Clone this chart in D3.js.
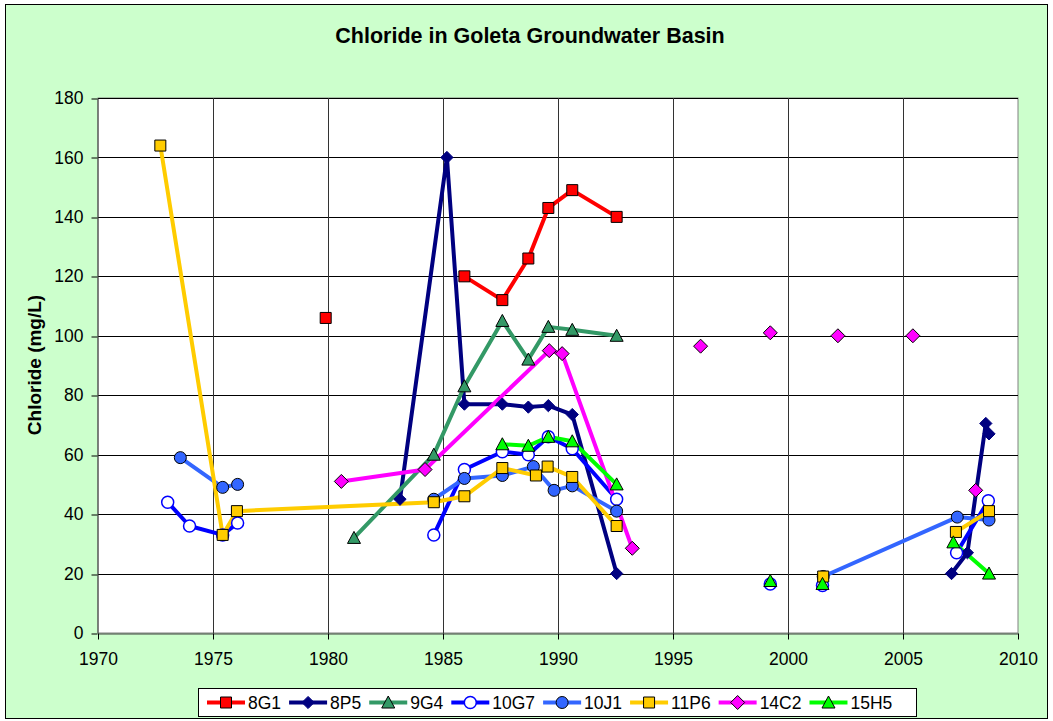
<!DOCTYPE html>
<html>
<head>
<meta charset="utf-8">
<script src="https://cdn.jsdelivr.net/npm/d3@7"></script>
<style>
  body { margin: 0; background: #fff; }
  svg text { font-family: Arial, "Liberation Sans", sans-serif; }
</style>
</head>
<body>
<svg id="vis" width="1053" height="721"></svg>
<script>
const width = 1053;
const height = 721;

// sample dates (decimal years) and chloride (mg/L); null = break in the line
const yr8G1 = [1979.9, null, 1985.93, 1987.58, 1988.71, 1989.58, 1990.62, 1992.55];
const cl8G1 = [106, null, 120, 112, 126, 143, 149, 140];

const yr8P5 = [1983.13, 1985.17, 1985.93, 1987.58, 1988.71, 1989.58, 1990.62, 1992.55, null, 2007.11, 2007.8, 2008.6, 2008.74];
const cl8P5 = [45, 160, 77, 77, 76, 76.5, 73.5, 20, null, 20, 27, 70.5, 67];

const yr9G4 = [1981.13, 1984.6, 1985.93, 1987.58, 1988.71, 1989.58, 1990.62, 1992.55];
const cl9G4 = [32, 60, 83, 105, 92, 103, 102, 100];

const yr10G7 = [1973.03, 1973.98, 1975.42, 1976.07, null, 1984.6, 1985.93, 1987.58, 1988.71, 1989.58, 1990.62, 1992.55, null, 1999.23, null, 2001.5, null, 2007.33, 2008.71];
const cl10G7 = [44, 36, 33, 37, null, 33, 55, 61, 60, 66, 62, 45, null, 16.5, null, 16, null, 27, 44.5];

const yr10J1 = [1973.58, 1975.42, 1976.07, null, 1984.6, 1985.93, 1987.58, 1988.93, 1989.83, 1990.62, 1992.55, null, 2001.53, 2007.36, 2008.74];
const cl10J1 = [59, 49, 50, null, 45, 52, 53, 56, 48, 49.5, 41, null, 19, 39, 38];

const yr11P6 = [1972.71, 1975.42, 1976.04, 1984.6, 1985.93, 1987.58, 1989.04, 1989.55, 1990.62, 1992.55, null, 2001.53, null, 2007.3, 2008.74];
const cl11P6 = [164, 33, 41, 44, 46, 55.5, 53, 56, 52.5, 36, null, 19, null, 34, 41];

const yr14C2 = [1980.58, 1984.22, 1989.62, 1990.18, 1993.23, null, 1996.2, null, 1999.23, null, 2002.17, null, 2005.43, null, 2008.16];
const cl14C2 = [51, 55, 95, 94, 28.5, null, 96.5, null, 101, null, 100, null, 100, null, 48];

const yr15H5 = [1987.58, 1988.71, 1989.58, 1990.62, 1992.55, null, 1999.23, null, 2001.5, null, 2007.19, 2008.74];
const cl15H5 = [63.5, 63, 66, 64.5, 50, null, 17.5, null, 16.5, null, 30.5, 20];

const xTicks = [1970, 1975, 1980, 1985, 1990, 1995, 2000, 2005, 2010];
const yTicks = [0, 20, 40, 60, 80, 100, 120, 140, 160, 180];

// custom marker shapes (Excel style, centred on the point)
const diamond = {
  draw(c, s) {
    const r = Math.sqrt(s) / 2;
    c.moveTo(0, -r); c.lineTo(r, 0); c.lineTo(0, r); c.lineTo(-r, 0); c.closePath();
  }
};
const triangle = {
  draw(c, s) {
    const r = Math.sqrt(s) / 2;
    c.moveTo(0, -r); c.lineTo(r, r * 0.85); c.lineTo(-r, r * 0.85); c.closePath();
  }
};

function zip(xs, ys) {
  return xs.map((x, i) => (x == null ? null : { x: x, y: ys[i] }));
}

const series = [
  { name: "8G1", data: zip(yr8G1, cl8G1), color: "#FF0000", shape: d3.symbolSquare, size: 121, fill: "#FF0000", stroke: "#000" },
  { name: "8P5", data: zip(yr8P5, cl8P5), color: "#000080", shape: diamond, size: 150, fill: "#000080", stroke: "#000080" },
  { name: "9G4", data: zip(yr9G4, cl9G4), color: "#339966", shape: triangle, size: 169, fill: "#339966", stroke: "#000" },
  { name: "10G7", data: zip(yr10G7, cl10G7), color: "#0000FF", shape: d3.symbolCircle, size: 113, fill: "#FFFFFF", stroke: "#0000FF" },
  { name: "10J1", data: zip(yr10J1, cl10J1), color: "#3366FF", shape: d3.symbolCircle, size: 113, fill: "#3366FF", stroke: "#000" },
  { name: "11P6", data: zip(yr11P6, cl11P6), color: "#FFCC00", shape: d3.symbolSquare, size: 121, fill: "#FFCC00", stroke: "#000" },
  { name: "14C2", data: zip(yr14C2, cl14C2), color: "#FF00FF", shape: diamond, size: 196, fill: "#FF00FF", stroke: "#000" },
  { name: "15H5", data: zip(yr15H5, cl15H5), color: "#00FF00", shape: triangle, size: 169, fill: "#00FF00", stroke: "#000" }
];

const plot = { left: 98, top: 98, right: 1018, bottom: 633 };

const x = d3.scaleLinear().domain([1970, 2010]).range([plot.left, plot.right]);
const y = d3.scaleLinear().domain([0, 180]).range([plot.bottom, plot.top]);

const svg = d3.select("svg#vis");

// chart background and border
svg.append("rect")
  .attr("x", 5.5).attr("y", 4.5)
  .attr("width", 1042).attr("height", 714)
  .attr("fill", "#CCFFCC")
  .attr("stroke", "#000")
  .attr("stroke-width", 1);

// plot area
svg.append("rect")
  .attr("x", plot.left).attr("y", plot.top)
  .attr("width", plot.right - plot.left).attr("height", plot.bottom - plot.top)
  .attr("fill", "#fff")
  .attr("stroke", "#808080");

// gridlines
const grid = svg.append("g").attr("class", "grid");
grid.selectAll("line.h")
  .data(yTicks.filter(d => d > 0))
  .enter().append("line")
  .attr("x1", plot.left).attr("x2", plot.right)
  .attr("y1", d => Math.round(y(d)) + 0.5).attr("y2", d => Math.round(y(d)) + 0.5)
  .attr("stroke", "#000");
grid.selectAll("line.v")
  .data(xTicks.filter(d => d > 1970 && d < 2010))
  .enter().append("line")
  .attr("y1", plot.top).attr("y2", plot.bottom)
  .attr("x1", d => Math.round(x(d)) + 0.5).attr("x2", d => Math.round(x(d)) + 0.5)
  .attr("stroke", "#333");

// axes
const yAxis = svg.append("g")
  .attr("transform", "translate(" + (plot.left - 0.5) + ",0)")
  .call(d3.axisLeft(y).tickValues(yTicks).tickSize(6).tickSizeOuter(0).tickPadding(8));
const xAxis = svg.append("g")
  .attr("transform", "translate(0," + (plot.bottom + 0.5) + ")")
  .call(d3.axisBottom(x).tickValues(xTicks).tickFormat(d3.format("d")).tickSize(6).tickSizeOuter(0).tickPadding(13));

[yAxis, xAxis].forEach(function(a) {
  a.selectAll("path.domain").attr("stroke", "#404040");
  a.selectAll(".tick line").attr("stroke", "#000");
  a.selectAll("text").style("font-size", "17.5px").attr("fill", "#000");
});
yAxis.selectAll(".tick line").attr("transform", d => "translate(0," + (Math.round(y(d)) + 0.5 - y(d)) + ")");

// title and axis label
svg.append("text")
  .attr("x", 530).attr("y", 43)
  .attr("text-anchor", "middle")
  .style("font-size", "21.5px")
  .style("font-weight", "bold")
  .text("Chloride in Goleta Groundwater Basin");

svg.append("text")
  .attr("transform", "translate(41,365) rotate(-90)")
  .attr("text-anchor", "middle")
  .style("font-size", "19px")
  .style("font-weight", "bold")
  .text("Chloride (mg/L)");

// lines
const line = d3.line()
  .defined(d => d != null)
  .x(d => x(d.x))
  .y(d => y(d.y));

const gLines = svg.append("g").attr("class", "lines");
series.forEach(function(s) {
  gLines.append("path")
    .datum(s.data)
    .attr("d", line)
    .attr("fill", "none")
    .attr("stroke", s.color)
    .attr("stroke-width", 4)
    .attr("stroke-linejoin", "round");
});

// markers
const gMarks = svg.append("g").attr("class", "markers");
series.forEach(function(s) {
  gMarks.append("g").selectAll("path")
    .data(s.data.filter(d => d != null))
    .enter().append("path")
    .attr("transform", d => "translate(" + x(d.x) + "," + y(d.y) + ")")
    .attr("d", d3.symbol().type(s.shape).size(s.size))
    .attr("fill", s.fill)
    .attr("stroke", s.stroke)
    .attr("stroke-width", s.fill === "#FFFFFF" ? 1.5 : 1);
});

// legend
const legend = svg.append("g").attr("class", "legend");
legend.append("rect")
  .attr("x", 198.5).attr("y", 688.5)
  .attr("width", 718).attr("height", 28)
  .attr("fill", "#fff")
  .attr("stroke", "#000");

let lx = 207;
const ly = 702.5;
series.forEach(function(s) {
  const item = legend.append("g");
  item.append("line")
    .attr("x1", lx).attr("x2", lx + 38)
    .attr("y1", ly).attr("y2", ly)
    .attr("stroke", s.color)
    .attr("stroke-width", 4);
  item.append("path")
    .attr("transform", "translate(" + (lx + 19) + "," + ly + ")")
    .attr("d", d3.symbol().type(s.shape).size(s.size))
    .attr("fill", s.fill)
    .attr("stroke", s.stroke)
    .attr("stroke-width", s.fill === "#FFFFFF" ? 1.5 : 1);
  const t = item.append("text")
    .attr("x", lx + 41).attr("y", ly)
    .attr("dy", "0.35em")
    .style("font-size", "17.5px")
    .text(s.name);
  lx += 41 + t.node().getComputedTextLength() + 8;
});
</script>
</body>
</html>
